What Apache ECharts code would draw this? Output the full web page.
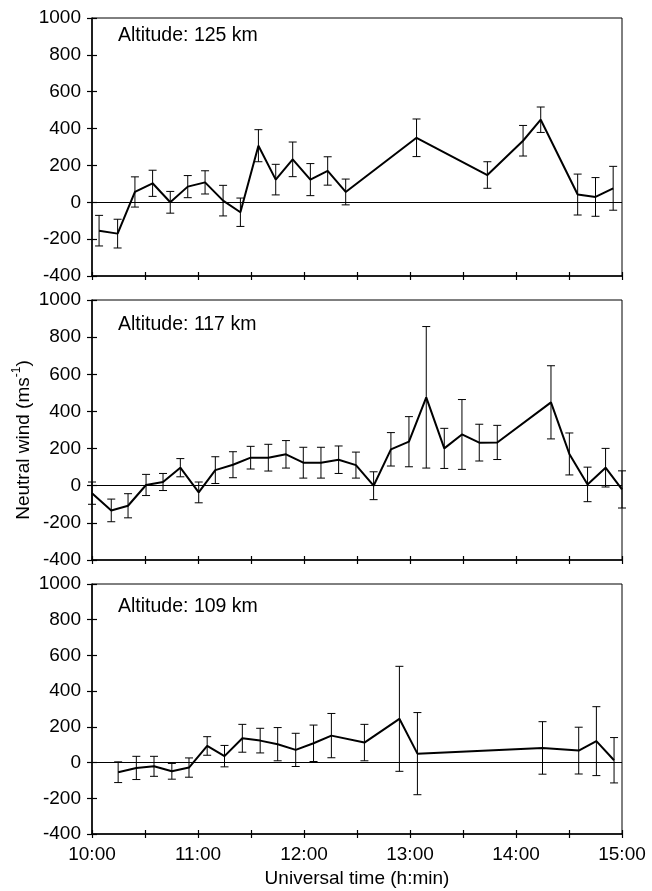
<!DOCTYPE html>
<html>
<head>
<meta charset="utf-8">
<script src="https://cdn.jsdelivr.net/npm/echarts@6/dist/echarts.min.js"></script>
<style>html,body{margin:0;padding:0;background:#fff}#c{width:652px;height:891px}</style>
</head>
<body>
<div id="c"></div>
<script>
// minutes after 10:00 UT, neutral wind (m/s), error (m/s)
const t125 = [4,14.5,24.3,34.3,44.3,54.2,64,74.2,84,94.2,104,113.6,123.6,133.4,143.6,183.7,223.8,244,254,274.9,285,295];
const v125 = [-154,-170,56,103,0,85,108,9,-54,307,123,233,123,170,56,350,148,334,448,42,29,76];
const e125 = [83,78,82,71,59,60,63,83,77,87,83,94,87,77,70,102,72,83,69,111,105,119];

const t117 = [0,10.9,20.4,30.6,40.2,50,60.4,69.8,79.8,89.8,99.8,109.8,119.6,129.6,139.6,149.4,159.4,169.2,179.4,189.2,199.4,209.4,219.2,229.4,259.8,270.2,280.5,290.7,300];
const v117 = [-40,-133,-108,4,20,97,-36,84,113,151,151,169,124,124,140,111,0,196,237,476,201,276,232,233,449,171,7,97,-20];
const e117 = [60,61,65,57,46,49,56,72,70,61,72,74,83,83,74,70,75,90,135,381,108,188,99,92,197,113,93,104,100];

const t109 = [14.8,25.1,35.1,45.2,54.9,65.2,75,85.1,95.2,105.1,115.3,125.4,135.5,154.2,174,184.2,255,275.5,285.5,295.5];
const v109 = [-54,-30,-21,-49,-28,93,36,136,123,103,71,108,151,112,245,50,82,67,120,13];
const e109 = [58,65,56,44,54,52,60,78,69,93,93,102,124,102,294,230,147,131,193,127];

const panelLabels = ['Altitude: 125 km','Altitude: 117 km','Altitude: 109 km'];
const yTicks = [-400,-200,0,200,400,600,800,1000];
const xTickLabels = ['10:00','11:00','12:00','13:00','14:00','15:00'];

const FONT = 'Liberation Sans, Arial, Helvetica, sans-serif';
const panels = [[t125,v125,e125],[t117,v117,e117],[t109,v109,e109]];
const grids = [
  {left:92, top:18, width:530, height:258},
  {left:92, top:300, width:530, height:260},
  {left:92, top:584, width:530, height:250}
];
const labelTops = [26, 315, 597];

const xAxis = [], yAxis = [], series = [];
grids.forEach((g,i)=>{
  g.show = true; g.borderColor = '#000'; g.borderWidth = 1; g.backgroundColor = 'transparent';
  const isBottom = i === 2;
  xAxis.push({
    type:'value', gridIndex:i, position:'bottom', min:0, max:300, interval:30,
    axisLine:{show:true, onZero:false, lineStyle:{color:'#000', width:1.5}},
    axisTick:{show:true, inside:false, length:4, lineStyle:{color:'#000', width:1.2}},
    splitLine:{show:false},
    axisLabel:{show:isBottom, margin:11, color:'#000', fontSize:19, fontFamily:FONT,
      showMinLabel:true, showMaxLabel:true,
      formatter:v => (v % 60 === 0) ? xTickLabels[v/60] : ''}
  });
  xAxis.push({
    type:'value', gridIndex:i, position:'bottom', min:0, max:300, interval:30,
    axisLine:{show:false, onZero:false},
    axisTick:{show:true, inside:true, length:4, lineStyle:{color:'#000', width:1.2}},
    splitLine:{show:false}, axisLabel:{show:false}
  });
  yAxis.push({
    type:'value', gridIndex:i, position:'left', min:yTicks[0], max:yTicks[yTicks.length-1], interval:200,
    axisLine:{show:true, onZero:false, lineStyle:{color:'#000', width:1.5}},
    axisTick:{show:true, inside:false, length:5, lineStyle:{color:'#000', width:1.2}},
    splitLine:{show:false},
    axisLabel:{margin:11, color:'#000', fontSize:19, fontFamily:FONT, showMinLabel:true, showMaxLabel:true,
      formatter:v => String(v)}
  });
  yAxis.push({
    type:'value', gridIndex:i, position:'left', min:yTicks[0], max:yTicks[yTicks.length-1], interval:200,
    axisLine:{show:false, onZero:false},
    axisTick:{show:true, inside:true, length:5, lineStyle:{color:'#000', width:1.2}},
    splitLine:{show:false}, axisLabel:{show:false}
  });
  const [t,v,e] = panels[i];
  series.push({
    type:'line', xAxisIndex:2*i, yAxisIndex:2*i,
    data:t.map((x,k)=>[x, v[k]]),
    symbol:'none', lineStyle:{color:'#000', width:2}, z:3,
    markLine:{silent:true, symbol:'none', label:{show:false},
      lineStyle:{color:'#000', width:1, type:'solid'}, data:[{yAxis:0}]}
  });
  series.push({
    type:'custom', xAxisIndex:2*i, yAxisIndex:2*i, z:2,
    data:t.map((x,k)=>[x, v[k]-e[k], v[k]+e[k]]),
    renderItem:(params, api)=>{
      const x = api.value(0);
      const lo = api.coord([x, api.value(1)]);
      const hi = api.coord([x, api.value(2)]);
      const w = 4;
      const st = {stroke:'#000', lineWidth:1};
      return {type:'group', children:[
        {type:'line', shape:{x1:lo[0], y1:lo[1], x2:hi[0], y2:hi[1]}, style:st},
        {type:'line', shape:{x1:lo[0]-w, y1:lo[1], x2:lo[0]+w, y2:lo[1]}, style:st},
        {type:'line', shape:{x1:hi[0]-w, y1:hi[1], x2:hi[0]+w, y2:hi[1]}, style:st}
      ]};
    }
  });
});

const graphic = panelLabels.map((s,i)=>({
  type:'text', left:118, top:labelTops[i],
  style:{text:s, fill:'#000', font:'19.5px ' + FONT}
}));
graphic.push({
  type:'text', x:357, y:879,
  style:{text:'Universal time (h:min)', fill:'#000', font:'19px ' + FONT, textAlign:'center', textVerticalAlign:'middle'}
});
graphic.push({
  type:'text', x:22, y:440, rotation:Math.PI/2,
  style:{
    text:'{a|Neutral wind (ms}{b|-1}{a|)}',
    textAlign:'center', textVerticalAlign:'middle',
    rich:{
      a:{fontSize:19, fontFamily:FONT, fill:'#000', lineHeight:22, verticalAlign:'bottom'},
      b:{fontSize:12, fontFamily:FONT, fill:'#000', lineHeight:22, verticalAlign:'top'}
    }
  }
});

const chart = echarts.init(document.getElementById('c'), null, {renderer:'canvas'});
chart.setOption({
  animation:false,
  backgroundColor:'#fff',
  grid:grids, xAxis, yAxis, series, graphic
});
</script>
</body>
</html>
